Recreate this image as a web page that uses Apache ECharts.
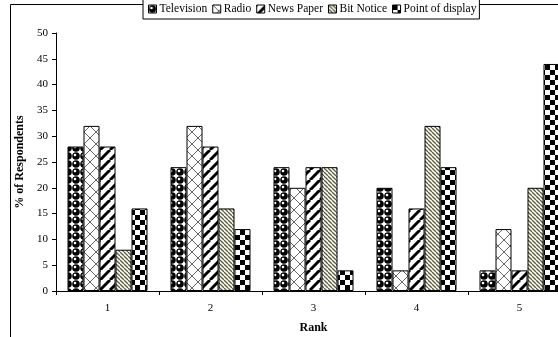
<!DOCTYPE html>
<html>
<head>
<meta charset="utf-8">
<style>html,body{margin:0;padding:0;background:#fff;}#c{width:558px;height:337px;}</style>
<script src="https://cdn.jsdelivr.net/npm/echarts@6/dist/echarts.min.js"></script>
</head>
<body>
<div id="c"></div>
<script>
const categories = ['1', '2', '3', '4', '5'];
const seriesNames = ['Television', 'Radio', 'News Paper', 'Bit Notice', 'Point of display'];
const television = [28, 24, 24, 20, 4];
const radio = [32, 32, 20, 4, 12];
const newsPaper = [28, 28, 24, 16, 4];
const bitNotice = [8, 16, 24, 32, 20];
const pointOfDisplay = [16, 12, 4, 24, 44];
const yTicks = [0, 5, 10, 15, 20, 25, 30, 35, 40, 45, 50];

function tile(size, draw) {
  const c = document.createElement('canvas');
  c.width = size; c.height = size;
  const ctx = c.getContext('2d');
  ctx.fillStyle = '#fff';
  ctx.fillRect(0, 0, size, size);
  draw(ctx, size);
  return { image: c, repeat: 'repeat' };
}
const patTV = tile(8, (ctx, s) => {
  ctx.fillStyle = '#000';
  ctx.beginPath(); ctx.arc(4, 4, 3.8, 0, Math.PI * 2); ctx.fill();
  ctx.fillStyle = '#fff';
  ctx.beginPath(); ctx.arc(3, 3, 1.3, 0, Math.PI * 2); ctx.fill();
});
const patRadio = tile(12, (ctx, s) => {
  ctx.strokeStyle = '#666'; ctx.lineWidth = 1;
  for (let k = -1; k <= 1; k++) {
    ctx.beginPath(); ctx.moveTo(k * s, s); ctx.lineTo(k * s + s, 0); ctx.stroke();
    ctx.beginPath(); ctx.moveTo(k * s, 0); ctx.lineTo(k * s + s, s); ctx.stroke();
  }
});
const patNews = tile(10, (ctx, s) => {
  ctx.strokeStyle = '#000'; ctx.lineWidth = 3;
  for (let k = -1; k <= 1; k++) {
    ctx.beginPath(); ctx.moveTo(k * s, s); ctx.lineTo(k * s + s, 0); ctx.stroke();
  }
});
const patBit = tile(4, (ctx, s) => {
  ctx.strokeStyle = '#5e5e38'; ctx.lineWidth = 1.3;
  for (let k = -1; k <= 1; k++) {
    ctx.beginPath(); ctx.moveTo(k * s, 0); ctx.lineTo(k * s + s, s); ctx.stroke();
  }
});
const patPoint = tile(10, (ctx, s) => {
  ctx.fillStyle = '#000';
  ctx.fillRect(0, 0, 5, 5); ctx.fillRect(5, 5, 5, 5);
});

const fonts = 'Liberation Serif';
const dataSets = [television, radio, newsPaper, bitNotice, pointOfDisplay];
const pats = [patTV, patRadio, patNews, patBit, patPoint];

const chart = echarts.init(document.getElementById('c'));
chart.setOption({
  animation: false,
  backgroundColor: '#fff',
  graphic: [{
    type: 'rect', z: -1,
    shape: { x: 10.5, y: 4.5, width: 600, height: 400 },
    style: { fill: 'none', stroke: '#000', lineWidth: 1 }
  }],
  legend: {
    top: -1, left: 143,
    data: seriesNames,
    icon: 'rect', itemWidth: 8, itemHeight: 8, itemGap: 5,
    borderColor: '#000', borderWidth: 1, backgroundColor: '#fff',
    padding: [4, 3, 4, 5],
    textStyle: { fontFamily: fonts, fontSize: 11.5, color: '#000', padding: [0, 0, 0, -2] },
    itemStyle: { borderColor: '#000', borderWidth: 1 }
  },
  grid: { left: 56, top: 33, width: 515, height: 258, outerBoundsMode: 'none', containLabel: false },
  xAxis: {
    type: 'category', data: categories,
    name: 'Rank', nameLocation: 'middle', nameGap: 31,
    nameTextStyle: { fontFamily: fonts, fontSize: 12, fontWeight: 'bold', color: '#000' },
    axisLine: { lineStyle: { color: '#000' } },
    axisTick: { show: true, length: 4, inside: false, lineStyle: { color: '#000' } },
    axisLabel: { fontFamily: fonts, fontSize: 11, color: '#000', margin: 12 }
  },
  yAxis: {
    type: 'value', min: 0, max: 50, interval: 5,
    name: '% of Respondents', nameLocation: 'middle', nameGap: 30,
    nameTextStyle: { fontFamily: fonts, fontSize: 12, fontWeight: 'bold', color: '#000' },
    axisLine: { show: true, lineStyle: { color: '#000' } },
    axisTick: { show: true, length: 4, lineStyle: { color: '#000' } },
    axisLabel: { fontFamily: fonts, fontSize: 11, color: '#000', margin: 8,
      formatter: v => yTicks.includes(v) ? String(v) : '' },
    splitLine: { show: false }
  },
  series: seriesNames.map((n, i) => ({
    name: n, type: 'bar', data: dataSets[i],
    barWidth: 16, barGap: '0%',
    itemStyle: { color: pats[i], borderColor: '#000', borderWidth: 1 }
  }))
});
</script>
</body>
</html>
